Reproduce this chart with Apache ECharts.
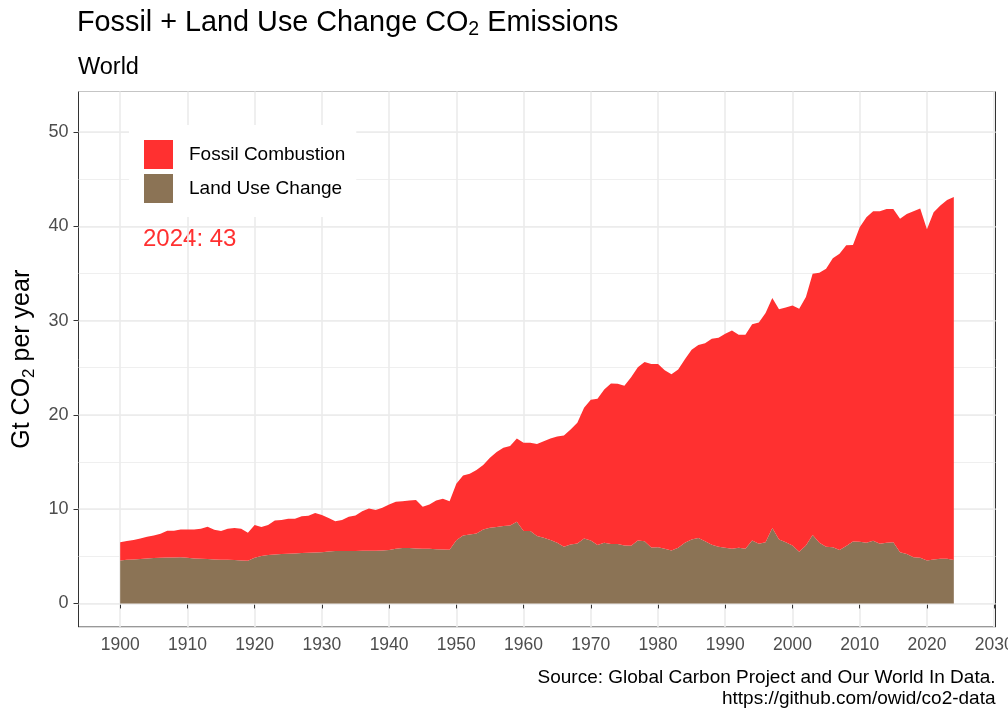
<!DOCTYPE html>
<html>
<head>
<meta charset="utf-8">
<title>Fossil + Land Use Change CO2 Emissions</title>
<script src="https://cdn.jsdelivr.net/npm/echarts@6/dist/echarts.min.js"></script>
<style>
  html, body { margin: 0; padding: 0; background: #fff; }
  #chart { width: 1008px; height: 720px; }
</style>
</head>
<body>
<div id="chart"></div>
<script>
// years shown on the x axis (1900 - 2024)
const years = [
  1900, 1901, 1902, 1903, 1904, 1905, 1906, 1907, 1908, 1909,
  1910, 1911, 1912, 1913, 1914, 1915, 1916, 1917, 1918, 1919,
  1920, 1921, 1922, 1923, 1924, 1925, 1926, 1927, 1928, 1929,
  1930, 1931, 1932, 1933, 1934, 1935, 1936, 1937, 1938, 1939,
  1940, 1941, 1942, 1943, 1944, 1945, 1946, 1947, 1948, 1949,
  1950, 1951, 1952, 1953, 1954, 1955, 1956, 1957, 1958, 1959,
  1960, 1961, 1962, 1963, 1964, 1965, 1966, 1967, 1968, 1969,
  1970, 1971, 1972, 1973, 1974, 1975, 1976, 1977, 1978, 1979,
  1980, 1981, 1982, 1983, 1984, 1985, 1986, 1987, 1988, 1989,
  1990, 1991, 1992, 1993, 1994, 1995, 1996, 1997, 1998, 1999,
  2000, 2001, 2002, 2003, 2004, 2005, 2006, 2007, 2008, 2009,
  2010, 2011, 2012, 2013, 2014, 2015, 2016, 2017, 2018, 2019,
  2020, 2021, 2022, 2023, 2024
];

// land use change emissions, Gt CO2
const landUse = [
  4.56, 4.63, 4.67, 4.70, 4.77, 4.81, 4.84, 4.88, 4.88, 4.91,
  4.84, 4.77, 4.74, 4.70, 4.67, 4.63, 4.63, 4.60, 4.56, 4.52,
  4.84, 5.02, 5.13, 5.20, 5.23, 5.27, 5.30, 5.34, 5.37, 5.41,
  5.44, 5.51, 5.55, 5.55, 5.55, 5.55, 5.59, 5.59, 5.59, 5.62,
  5.66, 5.80, 5.87, 5.87, 5.83, 5.80, 5.80, 5.76, 5.73, 5.69,
  6.70, 7.20, 7.30, 7.42, 7.85, 8.02, 8.10, 8.20, 8.27, 8.66,
  7.67, 7.67, 7.14, 6.96, 6.72, 6.43, 6.00, 6.26, 6.36, 6.90,
  6.68, 6.19, 6.43, 6.30, 6.30, 6.15, 6.12, 6.68, 6.60, 5.94,
  5.97, 5.80, 5.62, 5.90, 6.43, 6.79, 6.93, 6.60, 6.22, 6.00,
  5.90, 5.80, 5.90, 5.80, 6.68, 6.33, 6.50, 8.00, 6.79, 6.50,
  6.15, 5.48, 6.15, 7.25, 6.43, 6.00, 5.97, 5.66, 6.08, 6.57,
  6.54, 6.43, 6.65, 6.33, 6.43, 6.50, 5.44, 5.23, 4.91, 4.84,
  4.56, 4.67, 4.74, 4.74, 4.60
];

// fossil combustion emissions, Gt CO2
const fossil = [
  1.94, 1.98, 2.05, 2.19, 2.30, 2.40, 2.55, 2.83, 2.83, 2.94,
  3.01, 3.08, 3.18, 3.43, 3.14, 3.04, 3.29, 3.39, 3.36, 2.97,
  3.47, 3.08, 3.18, 3.60, 3.61, 3.71, 3.68, 3.92, 3.93, 4.19,
  3.93, 3.54, 3.18, 3.29, 3.64, 3.78, 4.20, 4.48, 4.31, 4.52,
  4.84, 4.98, 4.98, 5.05, 5.13, 4.45, 4.70, 5.16, 5.37, 5.16,
  6.00, 6.37, 6.45, 6.72, 6.82, 7.43, 7.95, 8.30, 8.43, 8.84,
  9.37, 9.37, 9.76, 10.24, 10.78, 11.27, 11.80, 12.19, 12.80, 13.85,
  14.92, 15.51, 16.27, 17.03, 17.00, 16.95, 17.88, 18.38, 19.00, 19.46,
  19.43, 18.94, 18.68, 18.90, 19.47, 20.11, 20.47, 21.00, 21.85, 22.17,
  22.70, 23.15, 22.60, 22.70, 22.92, 23.47, 24.30, 24.40, 24.41, 24.90,
  25.45, 25.77, 26.35, 27.71, 28.64, 29.50, 30.63, 31.44, 31.92, 31.46,
  33.36, 34.54, 34.95, 35.27, 35.42, 35.35, 35.36, 36.07, 36.69, 37.06,
  35.14, 36.83, 37.46, 38.06, 38.50
];

const xTicks = [1900, 1910, 1920, 1930, 1940, 1950, 1960, 1970, 1980, 1990, 2000, 2010, 2020, 2030];
const yTicks = [0, 10, 20, 30, 40, 50];

const FONT = "'Liberation Sans', Arial, Helvetica, sans-serif";
const RED = "#FF3030";
const BROWN = "#8B7355";
const GRID = "#EBEBEB";

const last = years.length - 1;
const latestTotal = Math.round(fossil[last] + landUse[last]);

// value first, year second: the stack then runs on the value (y) dimension
const toPairs = (vals) => years.map((y, i) => [vals[i], y]);

const chart = echarts.init(document.getElementById("chart"), null, { renderer: "canvas" });

chart.setOption({
  animation: false,
  backgroundColor: "#fff",
  textStyle: { fontFamily: FONT },
  title: [
    {
      text: "Fossil + Land Use Change CO{sub|2} Emissions",
      left: 77,
      top: 6,
      padding: 0,
      textStyle: {
        fontFamily: FONT, fontSize: 28.8, fontWeight: "normal", color: "#000", lineHeight: 34,
        rich: { sub: { fontFamily: FONT, fontSize: 19.5, verticalAlign: "bottom", color: "#000" } }
      }
    },
    {
      text: "World",
      left: 78,
      top: 56,
      padding: 0,
      textStyle: { fontFamily: FONT, fontSize: 23.5, fontWeight: "normal", color: "#000" }
    }
  ],
  legend: {
    data: ["Fossil Combustion", "Land Use Change"],
    orient: "vertical",
    left: 129,
    top: 125,
    padding: [15, 11, 14, 15],
    backgroundColor: "#fff",
    icon: "rect",
    itemWidth: 29,
    itemHeight: 29,
    itemGap: 5,
    selectedMode: false,
    textStyle: { fontFamily: FONT, fontSize: 19, color: "#000", padding: [0, 0, 0, 11] }
  },
  grid: {
    left: 78.5,
    right: 12.5,
    top: 91.5,
    bottom: 93,
    show: true,
    borderColor: "#333",
    borderWidth: 1,
    backgroundColor: "transparent",
    containLabel: false,
    outerBoundsMode: "none"
  },
  xAxis: {
    type: "value",
    min: 1893.8,
    max: 2030.2,
    splitNumber: 13,
    axisLine: { show: false },
    axisTick: { show: true, length: 5, lineStyle: { color: "#333" }, customValues: xTicks },
    axisLabel: {
      customValues: xTicks,
      margin: 9,
      fontFamily: FONT, fontSize: 17.5, color: "#4D4D4D",
      formatter: (v) => String(v)
    },
    splitLine: { show: true, lineStyle: { color: GRID, width: 1.6 } }
  },
  yAxis: [
    {
      type: "value",
      min: -2.5,
      max: 54.3,
      splitNumber: 5,
      name: "Gt CO{sub|2} per year",
      nameLocation: "middle",
      nameGap: 39,
      nameTextStyle: {
        fontFamily: FONT, fontSize: 25, color: "#000", lineHeight: 30,
        rich: { sub: { fontFamily: FONT, fontSize: 17, verticalAlign: "bottom", color: "#000" } }
      },
      axisLine: { show: false },
      axisTick: { show: true, length: 5, lineStyle: { color: "#333" }, customValues: yTicks },
      axisLabel: {
        customValues: yTicks,
        margin: 10,
        fontFamily: FONT, fontSize: 18, color: "#4D4D4D",
        formatter: (v) => String(v)
      },
      splitLine: { show: true, lineStyle: { color: GRID, width: 1.6 } },
      z: 3
    },
    {
      // minor grid lines every 5
      type: "value",
      min: -2.5,
      max: 54.3,
      splitNumber: 10,
      axisLine: { show: false },
      axisTick: { show: false },
      axisLabel: { show: false },
      splitLine: { show: true, lineStyle: { color: GRID, width: 0.8 } },
      z: 1
    }
  ],
  series: [
    {
      name: "Land Use Change",
      type: "line",
      stack: "co2",
      color: BROWN,
      showSymbol: false,
      symbol: "none",
      encode: { x: 1, y: 0 },
      lineStyle: { width: 0 },
      areaStyle: { color: BROWN, opacity: 1 },
      emphasis: { disabled: true },
      silent: true,
      data: toPairs(landUse)
    },
    {
      name: "Fossil Combustion",
      type: "line",
      stack: "co2",
      color: RED,
      showSymbol: false,
      symbol: "none",
      encode: { x: 1, y: 0 },
      lineStyle: { width: 0 },
      areaStyle: { color: RED, opacity: 1 },
      emphasis: { disabled: true },
      silent: true,
      data: toPairs(fossil)
    }
  ],
  graphic: [
    {
      type: "text",
      left: 143,
      top: 227,
      style: {
        text: years[last] + ": " + latestTotal,
        fill: RED,
        font: "24px " + FONT
      }
    },
    {
      type: "text",
      right: 12.5,
      top: 667,
      style: {
        text: "Source: Global Carbon Project and Our World In Data.\nhttps://github.com/owid/co2-data",
        fill: "#000",
        font: "19px " + FONT,
        lineHeight: 21,
        textAlign: "right",
        align: "right"
      }
    }
  ]
});
</script>
</body>
</html>
